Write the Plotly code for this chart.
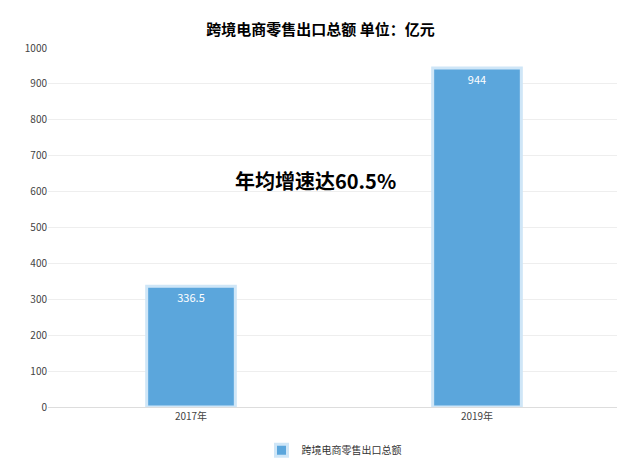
import plotly.graph_objects as go

categories = ["2017年", "2019年"]
values = [336.5, 944]
labels = ["336.5", "944"]
series_name = "跨境电商零售出口总额"

fig = go.Figure()
fig.add_trace(go.Bar(x=categories, y=values, name=series_name, text=labels,
                     textposition="inside", insidetextanchor="end",
                     textfont=dict(color="white", size=11),
                     marker=dict(color="#5ba6dc", line=dict(color="#cfe6f7", width=3)),
                     showlegend=True))
fig.update_layout(
    width=625, height=469,
    font=dict(family="Noto Sans CJK SC", color="#333"),
    title=dict(text="<b>跨境电商零售出口总额 单位：亿元</b>", x=0.5, y=0.965, font=dict(size=15, color="#000")),
    plot_bgcolor="white", paper_bgcolor="white",
    margin=dict(l=40, r=13, t=40, b=52),
    bargap=0.69,
    xaxis=dict(showline=True, linecolor="#ddd", tickfont=dict(size=10, color="#444")),
    yaxis=dict(range=[0, 1000], dtick=100, gridcolor="#eee", tickfont=dict(size=10, color="#444"), zeroline=False),
    legend=dict(orientation="h", x=0.5, xanchor="center", y=-0.08, font=dict(size=10)),
    annotations=[dict(text="<b>年均增速达60.5%</b>", x=0.468, y=630, xref="paper", yref="y",
                      showarrow=False, font=dict(size=20, color="#000"))],
)
fig.write_html("out.html")
